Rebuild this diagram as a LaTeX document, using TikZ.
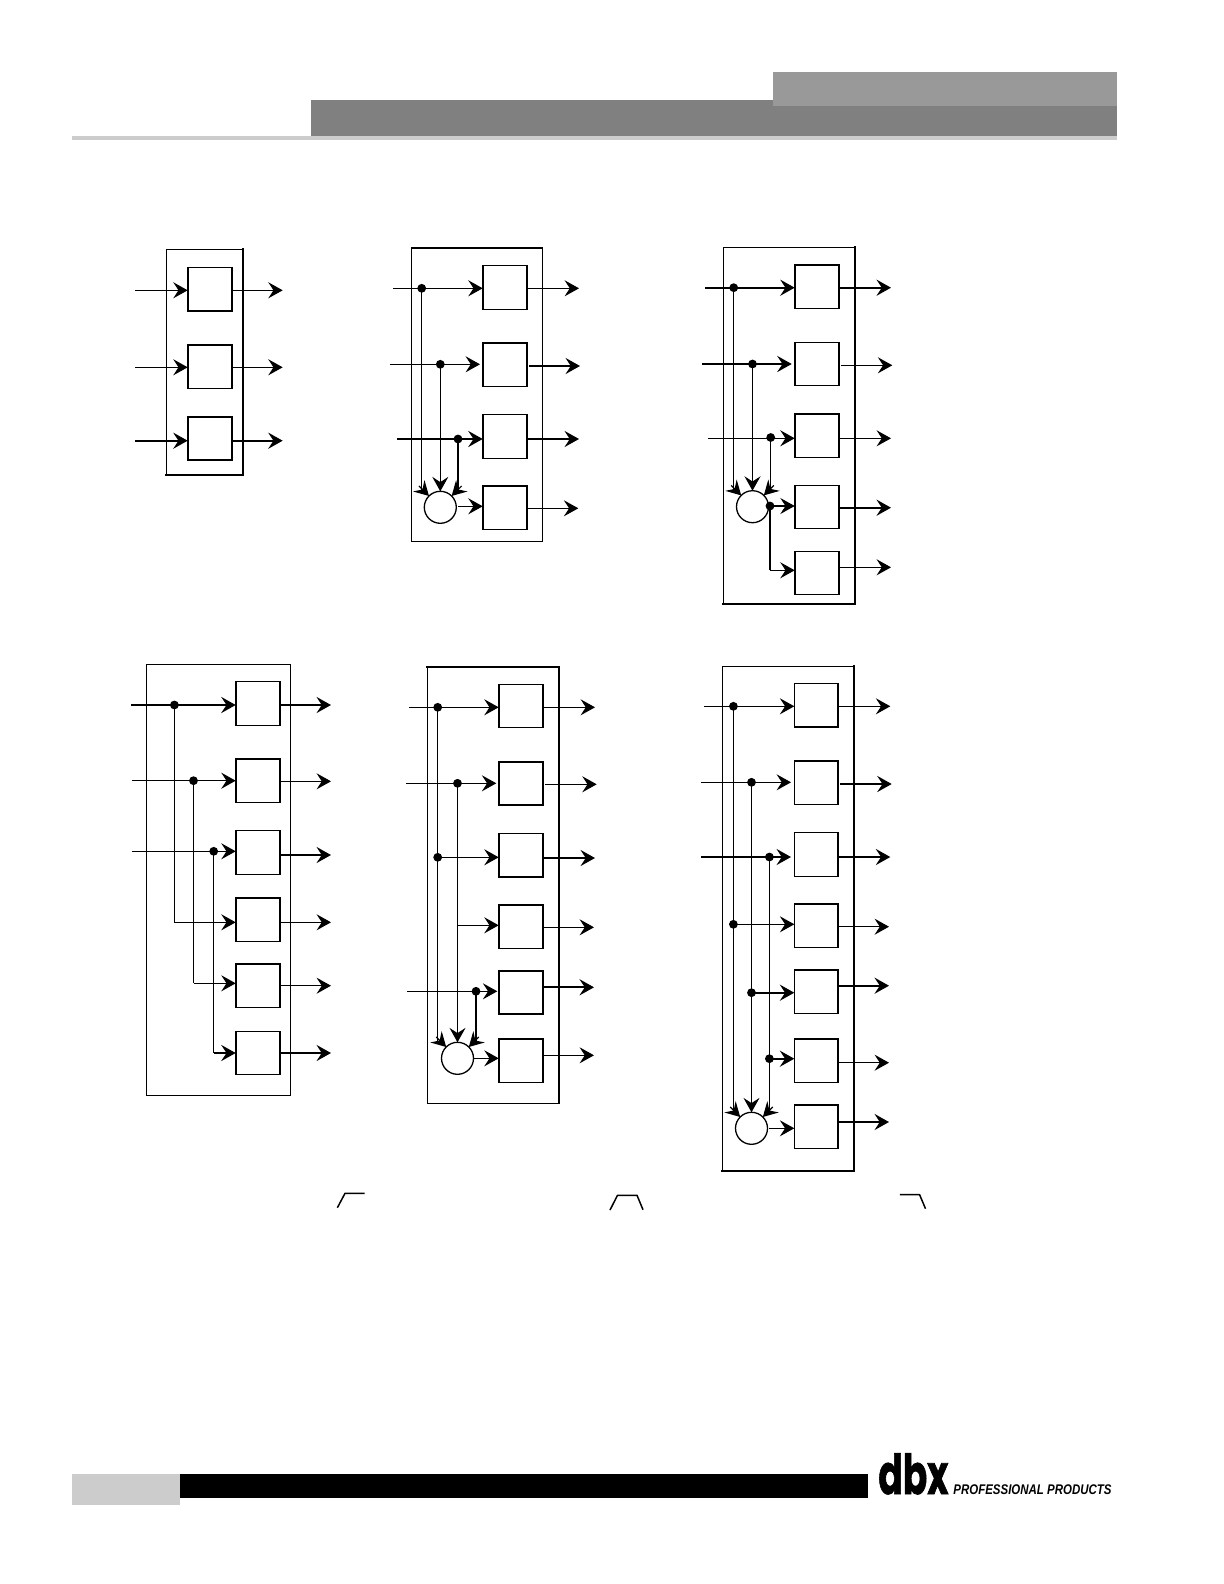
\documentclass[tikz,border=0pt]{standalone}
\usepackage{fontspec}
\usetikzlibrary{arrows.meta,calc}
\setmainfont{Liberation Sans}
\newfontfamily\logofont{Poppins Bold}[RawFeature={embolden=1.5}]
\tikzset{
  x=0.5pt,y=-0.5pt,
  frame/.style={draw=black,line width=0.65pt,fill=none,inner sep=0pt,outer sep=0pt},
  blockbox/.style={draw=black,line width=0.8pt,fill=white,inner sep=0pt,outer sep=0pt},
  sumnode/.style={circle,draw=black,line width=0.65pt,fill=white,minimum size=16pt,inner sep=0pt,outer sep=0pt},
  dot/.style={circle,fill=black,minimum size=4.4pt,inner sep=0pt,outer sep=0pt},
  thinsig/.style={line width=0.6pt,-{Stealth[length=7.2pt,width=8pt,inset=2.6pt]}},
  heavysig/.style={line width=1.15pt,-{Stealth[length=7.2pt,width=8pt,inset=2.6pt]}},
  thinline/.style={line width=0.6pt},
  heavyline/.style={line width=1.15pt},
  heavyedge/.style={line width=1.1pt,line cap=rect},
  curve/.style={line width=0.75pt,line join=round},
}
% rectangular node from its corners: style,name,x1,y1,x2,y2
\newcommand\rectnode[6]{\node[#1,minimum width={(#5-#3)*0.5pt},minimum height={(#6-#4)*0.5pt}] (#2) at ({(#3+#5)/2},{(#4+#6)/2}) {};}
% input: style,box,xstart,y,gap
\newcommand\inp[5]{\coordinate (#2-i) at (#3,#4);\draw[#1] (#2-i) -- ($(#2-i -| #2.west)+(-#5,0)$);}
% output: style,box,xend,y,gap
\newcommand\outp[5]{\coordinate (#2-o) at (#3,#4);\draw[#1] ($(#2-o -| #2.east)+(#5,0)$) -- (#2-o);}
% branch from a dot straight to a box: style,dot,box
\newcommand\tobox[3]{\draw[#1] (#2.center) -- (#2.center -| #3.west);}
% three feeds into a summing circle: circle, left dot, mid dot, right dot
\newcommand\feeds[4]{%
  \draw[thinline] (#2.center) -- (#2.center |- #1.north);
  \draw[thinsig] ($(#1.135)+(-10,-10)$) -- (#1.135);
  \draw[thinsig] (#3.center) -- (#1.north);
  \draw[thinline] (#4.center) -- (#4.center |- #1.north);
  \draw[thinsig] ($(#1.45)+(10,-10)$) -- (#1.45);
}
\begin{document}
\begin{tikzpicture}
\useasboundingbox (0,0) rectangle (1224,1584);
\fill[white] (0,0) rectangle (1224,1584);

% header
\fill[black!50] (311,100) rectangle (1117,136);
\fill[black!40] (773,72) rectangle (1117,105.7);
\fill[black!20] (72,136) rectangle (1117,140);

% ---- A ----
\rectnode{frame}{fa}{166.5}{249.5}{243}{475}
\draw[heavyedge] (fa.north east) -- (fa.south east) -- (fa.south west);
\rectnode{blockbox}{a1}{187.7}{267.3}{231.7}{311}
\rectnode{blockbox}{a2}{187.7}{344.7}{231.7}{388.3}
\rectnode{blockbox}{a3}{187.7}{416.7}{231.7}{460}
\inp{thinsig}{a1}{135}{290.3}{0}
\inp{thinsig}{a2}{135}{367.3}{0}
\inp{heavysig}{a3}{135}{440.7}{0}
\outp{thinsig}{a1}{282.7}{290.3}{0}
\outp{thinsig}{a2}{282.7}{367.3}{0}
\outp{heavysig}{a3}{282.7}{440.7}{0}

% ---- B ----
\rectnode{frame}{fb}{411.7}{247.7}{542.3}{541.3}
\draw[heavyedge] (fb.north west) -- (fb.north east);
\rectnode{blockbox}{b1}{482.7}{265.3}{526.7}{309.3}
\rectnode{blockbox}{b2}{482.7}{342.7}{526.7}{386.3}
\rectnode{blockbox}{b3}{482.7}{414.3}{526.7}{458.3}
\rectnode{blockbox}{b4}{482.7}{485.7}{526.7}{529.3}
\inp{thinsig}{b1}{393}{288.3}{0}
\inp{thinsig}{b2}{390}{364.3}{2.7}
\inp{heavysig}{b3}{397}{439}{0}
\node[dot] (bd1) at (421.7,288.3) {};
\node[dot] (bd2) at (440.3,364.3) {};
\node[dot] (bd3) at (458,439) {};
\node[sumnode] (bs) at (440.3,507.3) {};
\feeds{bs}{bd1}{bd2}{bd3}
\coordinate (bso) at (458,506.3);
\draw[thinsig] (bso) -- (bso -| b4.west);
\outp{thinsig}{b1}{579}{288.3}{0}
\outp{heavysig}{b2}{580}{366}{2.5}
\outp{heavysig}{b3}{579}{439}{0}
\outp{thinsig}{b4}{578.3}{508.3}{0}

% ---- C ----
\rectnode{frame}{fc}{723.3}{247.3}{855.3}{604}
\draw[heavyedge] (fc.north east) -- (fc.south east) -- (fc.south west);
\rectnode{blockbox}{c1}{794.7}{264.7}{838.7}{308.3}
\rectnode{blockbox}{c2}{794.7}{342.3}{838.7}{385.3}
\rectnode{blockbox}{c3}{794.7}{413.7}{838.7}{457.3}
\rectnode{blockbox}{c4}{794.7}{485.3}{838.7}{528.3}
\rectnode{blockbox}{c5}{794.7}{551.3}{838.7}{594.3}
\inp{heavysig}{c1}{705}{287.7}{0}
\inp{heavysig}{c2}{702}{364}{3}
\inp{thinsig}{c3}{708}{438.3}{0}
\node[dot] (cd1) at (733.7,287.7) {};
\node[dot] (cd2) at (752.5,364) {};
\node[dot] (cd3) at (770.7,437.5) {};
\node[sumnode] (cs) at (752.5,506.7) {};
\feeds{cs}{cd1}{cd2}{cd3}
\node[dot] (cd4) at (770,506) {};
\tobox{thinsig}{cd4}{c4}
\coordinate (c5t) at (770,570.3);
\draw[heavyline] (cd4.center) -- (c5t);
\draw[thinsig] (c5t) -- (c5t -| c5.west);
\outp{heavysig}{c1}{891}{287.7}{0}
\outp{thinsig}{c2}{892.3}{365.3}{2.5}
\outp{thinsig}{c3}{891}{438.3}{0}
\outp{heavysig}{c4}{891}{507.7}{0}
\outp{thinsig}{c5}{891}{567.3}{0}

% ---- D ----
\rectnode{frame}{fd}{146.3}{664.3}{290.3}{1095.3}
\rectnode{blockbox}{d1}{235.7}{681.3}{279.7}{725.3}
\rectnode{blockbox}{d2}{235.7}{758.7}{279.7}{802.3}
\rectnode{blockbox}{d3}{235.7}{830.3}{279.7}{874.3}
\rectnode{blockbox}{d4}{235.7}{897.7}{279.7}{941.3}
\rectnode{blockbox}{d5}{235.7}{963.7}{279.7}{1007.3}
\rectnode{blockbox}{d6}{235.7}{1031.3}{279.7}{1074.3}
\inp{heavysig}{d1}{131}{705}{0}
\inp{thinsig}{d2}{132}{780.7}{0}
\inp{thinsig}{d3}{132}{851.3}{0}
\node[dot] (dd1) at (174.4,705) {};
\node[dot] (dd2) at (193.5,780.7) {};
\node[dot] (dd3) at (213.7,851.3) {};
\coordinate (d4t) at (174.4,922.3);
\coordinate (d5t) at (193.5,983.3);
\coordinate (d6t) at (213.7,1053);
\draw[thinline] (dd1.center) -- (d4t);
\draw[thinsig] (d4t) -- (d4t -| d4.west);
\draw[thinline] (dd2.center) -- (d5t);
\draw[thinsig] (d5t) -- (d5t -| d5.west);
\draw[thinline] (dd3.center) -- (d6t);
\draw[heavysig] (d6t) -- (d6t -| d6.west);
\outp{heavysig}{d1}{331}{705}{0}
\outp{thinsig}{d2}{331}{781.3}{0}
\outp{heavysig}{d3}{331}{855}{0}
\outp{thinsig}{d4}{331}{922.3}{0}
\outp{thinsig}{d5}{331}{985.7}{0}
\outp{heavysig}{d6}{331}{1053}{0}

% ---- E ----
\rectnode{frame}{fe}{427.3}{666.7}{559}{1103.3}
\draw[heavyedge] (fe.north west) -- (fe.north east) -- (fe.south east);
\rectnode{blockbox}{e1}{498.7}{684.3}{542.7}{727.3}
\rectnode{blockbox}{e2}{498.7}{761.7}{542.7}{805}
\rectnode{blockbox}{e3}{498.7}{833.3}{542.7}{877}
\rectnode{blockbox}{e4}{498.7}{904.7}{542.7}{948.3}
\rectnode{blockbox}{e5}{498.7}{970.7}{542.7}{1014}
\rectnode{blockbox}{e6}{498.7}{1039}{542.7}{1082.3}
\inp{thinsig}{e1}{409}{707.3}{0}
\inp{thinsig}{e2}{406}{783.3}{2.4}
\inp{thinsig}{e5}{407}{991.3}{1.4}
\node[dot] (ed1) at (437.7,707.3) {};
\node[dot] (ed2) at (457.5,783.3) {};
\node[dot] (ed3) at (437.7,857.3) {};
\node[dot] (ed4) at (476,991.3) {};
\tobox{thinsig}{ed3}{e3}
\coordinate (e4t) at (457.5,925.3);
\draw[thinsig] (e4t) -- (e4t -| e4.west);
\node[sumnode] (es) at (457.5,1058.3) {};
\feeds{es}{ed1}{ed2}{ed4}
\coordinate (eso) at (473.3,1058.3);
\draw[thinsig] (eso) -- (eso -| e6.west);
\outp{thinsig}{e1}{595}{707.3}{0}
\outp{thinsig}{e2}{596.7}{784.3}{2.6}
\outp{heavysig}{e3}{595}{858}{0}
\outp{thinsig}{e4}{594}{927.3}{0}
\outp{heavysig}{e5}{594}{987.3}{0}
\outp{thinsig}{e6}{594}{1055.3}{0}

% ---- F ----
\rectnode{frame}{ff}{722.3}{666.3}{854.3}{1171}
\draw[heavyedge] (ff.north east) -- (ff.south east) -- (ff.south west);
\rectnode{blockbox}{f1}{794.3}{683.3}{837.7}{727}
\rectnode{blockbox}{f2}{794.3}{760.7}{837.7}{804.3}
\rectnode{blockbox}{f3}{794.3}{832.3}{837.7}{876.3}
\rectnode{blockbox}{f4}{794.3}{903.7}{837.7}{947.3}
\rectnode{blockbox}{f5}{794.3}{969.7}{837.7}{1013.3}
\rectnode{blockbox}{f6}{794.3}{1038.7}{837.7}{1082.3}
\rectnode{blockbox}{f7}{794.3}{1104.7}{837.7}{1148.3}
\inp{thinsig}{f1}{704}{706.3}{0}
\inp{thinsig}{f2}{701}{782.3}{3.3}
\inp{heavysig}{f3}{701}{857}{3.3}
\node[dot] (fd1) at (733.4,706.3) {};
\node[dot] (fd2) at (751.5,782.3) {};
\node[dot] (fd3) at (769.4,857) {};
\node[dot] (fd4) at (733.4,924.3) {};
\node[dot] (fd5) at (751.5,992.7) {};
\node[dot] (fd6) at (769.4,1058.7) {};
\tobox{thinsig}{fd4}{f4}
\tobox{heavysig}{fd5}{f5}
\tobox{heavysig}{fd6}{f6}
\node[sumnode] (fs) at (751.5,1128.3) {};
\feeds{fs}{fd1}{fd2}{fd3}
\coordinate (fso) at (769.3,1128.3);
\draw[thinsig] (fso) -- (fso -| f7.west);
\outp{thinsig}{f1}{890.3}{706.3}{0}
\outp{heavysig}{f2}{891.7}{784}{2.6}
\outp{heavysig}{f3}{890.3}{857}{0}
\outp{thinsig}{f4}{889}{926.7}{0}
\outp{heavysig}{f5}{889}{985.7}{0}
\outp{thinsig}{f6}{889}{1062.7}{0}
\outp{heavysig}{f7}{889}{1122}{0}

% filter curves
\draw[curve] (337.4,1207.7) -- (345,1193.3) -- (364.7,1193.3);
\draw[curve] (610,1210) -- (617.5,1195.3) -- (637,1195.3) -- (643,1209.7);
\draw[curve] (899.8,1194.7) -- (919.6,1194.7) -- (925.5,1208.7);

% footer
\fill[black!20] (72,1474) rectangle (180,1505);
\fill[black] (180,1474) rectangle (868,1498);
\node[anchor=base west,inner sep=0pt] (logo) at (878,1494) {\scalebox{0.62}[0.95]{\logofont\fontsize{29pt}{29pt}\selectfont dbx}};
\node[anchor=base west,inner sep=0pt] (prod) at (953,1494) {\scalebox{0.82}[1]{\fontsize{7pt}{7pt}\selectfont\bfseries\itshape PROFESSIONAL PRODUCTS}};
\end{tikzpicture}
\end{document}
